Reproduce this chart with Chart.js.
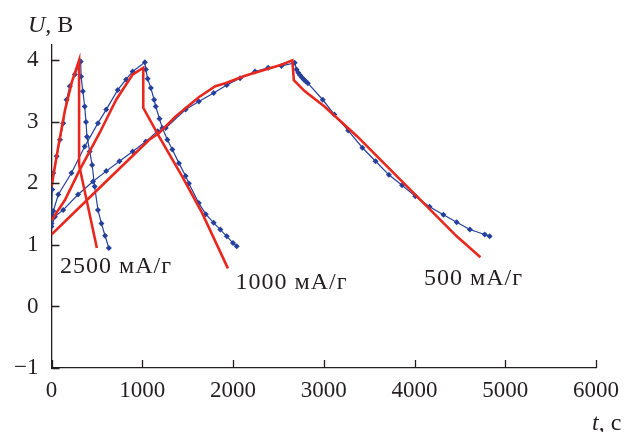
<!DOCTYPE html>
<html>
<head>
  <meta charset="utf-8">
  <title>U(t) charge / discharge</title>
  <script src="https://cdn.jsdelivr.net/npm/chart.js"></script>
  <style>
    body { margin: 0; background: #fff; }
    .chart-box { width: 628px; height: 432px; position: relative; }
  </style>
</head>
<body>
  <div class="chart-box">
    <canvas id="uChart"></canvas>
  </div>

  <script>
    // ----- data (t in s, U in V) -----
    // 2500 mA/g
    const t2500Red  = [0, 75, 150, 225, 304, 304, 500];
    const u2500Red  = [1.95, 2.6, 3.2, 3.65, 4.0, 2.3, 0.95];
    const t2500Blue = [0, 8, 20, 57, 93, 129, 166, 202, 257, 322,
                       326, 345, 366, 380, 391, 421, 448, 475, 512, 550, 590, 632];
    const u2500Blue = [1.5, 1.9, 2.17, 2.44, 2.71, 2.98, 3.36, 3.58, 3.77, 3.98,
                       3.74, 3.5, 3.25, 3.0, 2.76, 2.52, 2.3, 1.95, 1.57, 1.35, 1.15, 0.95];

    // 1000 mA/g
    const t1000Red  = [0, 148, 311, 530, 713, 894, 1011, 1011, 1186, 1441, 1659, 1944];
    const u1000Red  = [1.4, 1.73, 2.22, 2.82, 3.36, 3.77, 3.88, 3.23, 2.76, 2.11, 1.52, 0.62];
    const t1000Blue = [0, 20, 75, 220, 366, 512, 603, 730, 822, 894, 1029,
                       1040, 1060, 1095, 1131, 1149, 1190, 1222, 1277, 1331, 1404,
                       1478, 1514, 1623, 1700, 1787, 1860, 1932, 2000, 2041];
    const u1000Blue = [1.35, 1.55, 1.82, 2.17, 2.6, 2.98, 3.2, 3.52, 3.69, 3.82, 3.97,
                       3.85, 3.7, 3.55, 3.36, 3.25, 3.05, 2.9, 2.71, 2.55, 2.33,
                       2.12, 2.0, 1.68, 1.5, 1.36, 1.25, 1.14, 1.03, 0.98];

    // 500 mA/g
    const t500Red  = [0, 530, 1077, 1186, 1368, 1623, 1805, 1915, 2133, 2533, 2654,
                      2670, 2789, 3008, 3372, 3736, 4101, 4465, 4727];
    const u500Red  = [1.17, 1.93, 2.71, 2.82, 3.09, 3.4, 3.58, 3.63, 3.75, 3.93, 4.0,
                      3.68, 3.5, 3.25, 2.76, 2.22, 1.68, 1.14, 0.8];
    const t500Blue = [0, 38, 129, 293, 457, 603, 749, 894, 1040, 1168, 1259, 1478,
                      1623, 1787, 1932, 2078, 2243, 2388, 2533, 2680,
                      2700, 2720, 2740, 2760, 2780, 2800, 2825, 2989, 3117, 3270,
                      3426, 3571, 3718, 3863, 4009, 4166, 4319, 4465, 4610, 4774, 4828];
    const u500Blue = [1.3, 1.46, 1.57, 1.82, 2.03, 2.2, 2.36, 2.52, 2.68, 2.85, 2.9, 3.2,
                      3.33, 3.47, 3.6, 3.71, 3.82, 3.88, 3.91, 3.96,
                      3.85, 3.8, 3.76, 3.72, 3.69, 3.66, 3.63, 3.36, 3.12, 2.86,
                      2.58, 2.36, 2.14, 1.97, 1.79, 1.62, 1.49, 1.37, 1.25, 1.17, 1.14];

    // curve labels: text, left edge t, middle U
    const curveLabels = ["2500 мА/г", "1000 мА/г", "500 мА/г"];
    const labelT = [93, 2027, 4104];
    const labelU = [0.65, 0.39, 0.45];

    const xTicks = [0, 1000, 2000, 3000, 4000, 5000, 6000];
    const yTicks = [-1, 0, 1, 2, 3, 4];

    const RED = "#e8281e";
    const BLUE = "#26419c";
    const INK = "#231f20";
    const SERIF = "'Liberation Serif', 'DejaVu Serif', serif";

    function pts(ts, us) {
      return ts.map((t, i) => ({ x: t, y: us[i] }));
    }
    function redSet(ts, us) {
      return { data: pts(ts, us), showLine: true, borderColor: RED, borderWidth: 2.6,
               pointRadius: 0, tension: 0 };
    }
    function blueSet(ts, us) {
      return { data: pts(ts, us), showLine: true, borderColor: BLUE, borderWidth: 1.2,
               pointStyle: "rectRot", pointRadius: 3, backgroundColor: BLUE,
               pointBorderColor: BLUE, pointBorderWidth: 0, tension: 0 };
    }

    // inward tick marks, curve labels and axis titles
    const decorations = {
      id: "decorations",
      afterDraw(chart) {
        const { ctx, chartArea } = chart;
        const sx = chart.scales.x, sy = chart.scales.y;
        ctx.save();
        ctx.strokeStyle = INK;
        ctx.lineWidth = 1.3;
        ctx.beginPath();
        xTicks.forEach(v => {
          const px = Math.round(sx.getPixelForValue(v)) + 0.5;
          ctx.moveTo(px, chartArea.bottom);
          ctx.lineTo(px, chartArea.bottom - 8);
        });
        yTicks.forEach(v => {
          const py = Math.round(sy.getPixelForValue(v)) + 0.5;
          ctx.moveTo(chartArea.left, py);
          ctx.lineTo(chartArea.left + 8, py);
        });
        ctx.stroke();

        ctx.fillStyle = INK;
        ctx.font = "24px " + SERIF;
        ctx.letterSpacing = "1px";
        ctx.textAlign = "left";
        ctx.textBaseline = "middle";
        curveLabels.forEach((txt, i) => {
          ctx.fillText(txt, sx.getPixelForValue(labelT[i]), sy.getPixelForValue(labelU[i]));
        });
        ctx.letterSpacing = "0px";

        // axis titles
        ctx.textBaseline = "alphabetic";
        ctx.font = "italic 24px " + SERIF;
        ctx.fillText("U", 28, 32);
        let w = ctx.measureText("U").width;
        ctx.font = "24px " + SERIF;
        ctx.fillText(", В", 28 + w, 32);

        ctx.font = "italic 24px " + SERIF;
        ctx.fillText("t", 592, 430);
        w = ctx.measureText("t").width;
        ctx.font = "24px " + SERIF;
        ctx.fillText(", с", 592 + w, 430);
        ctx.restore();
      }
    };

    new Chart(document.getElementById("uChart").getContext("2d"), {
      type: "scatter",
      data: {
        datasets: [
          redSet(t2500Red, u2500Red),
          redSet(t1000Red, u1000Red),
          redSet(t500Red, u500Red),
          blueSet(t2500Blue, u2500Blue),
          blueSet(t1000Blue, u1000Blue),
          blueSet(t500Blue, u500Blue)
        ]
      },
      options: {
        responsive: true,
        maintainAspectRatio: false,
        animation: false,
        layout: { padding: { top: 45, right: 28, left: 0, bottom: 0 } },
        plugins: { legend: { display: false }, tooltip: { enabled: false } },
        scales: {
          x: {
            type: "linear",
            min: 0, max: 6000,
            afterBuildTicks: s => { s.ticks = xTicks.map(v => ({ value: v })); },
            afterFit: s => { s.height = 64; },
            grid: { display: false, drawTicks: false },
            border: { display: true, color: INK, width: 1.3 },
            ticks: { color: INK, padding: 9, maxRotation: 0,
                     font: { family: SERIF, size: 23 },
                     callback: v => String(v) }
          },
          y: {
            type: "linear",
            min: -1, max: 4.25,
            afterBuildTicks: s => { s.ticks = yTicks.map(v => ({ value: v })); },
            afterFit: s => { s.width = 51.5; },
            grid: { display: false, drawTicks: false },
            border: { display: true, color: INK, width: 1.3 },
            ticks: { color: INK, padding: 13,
                     font: { family: SERIF, size: 23 },
                     callback: v => v < 0 ? "\u2212" + Math.abs(v) : String(v) }
          }
        }
      },
      plugins: [decorations]
    });
  </script>
</body>
</html>
